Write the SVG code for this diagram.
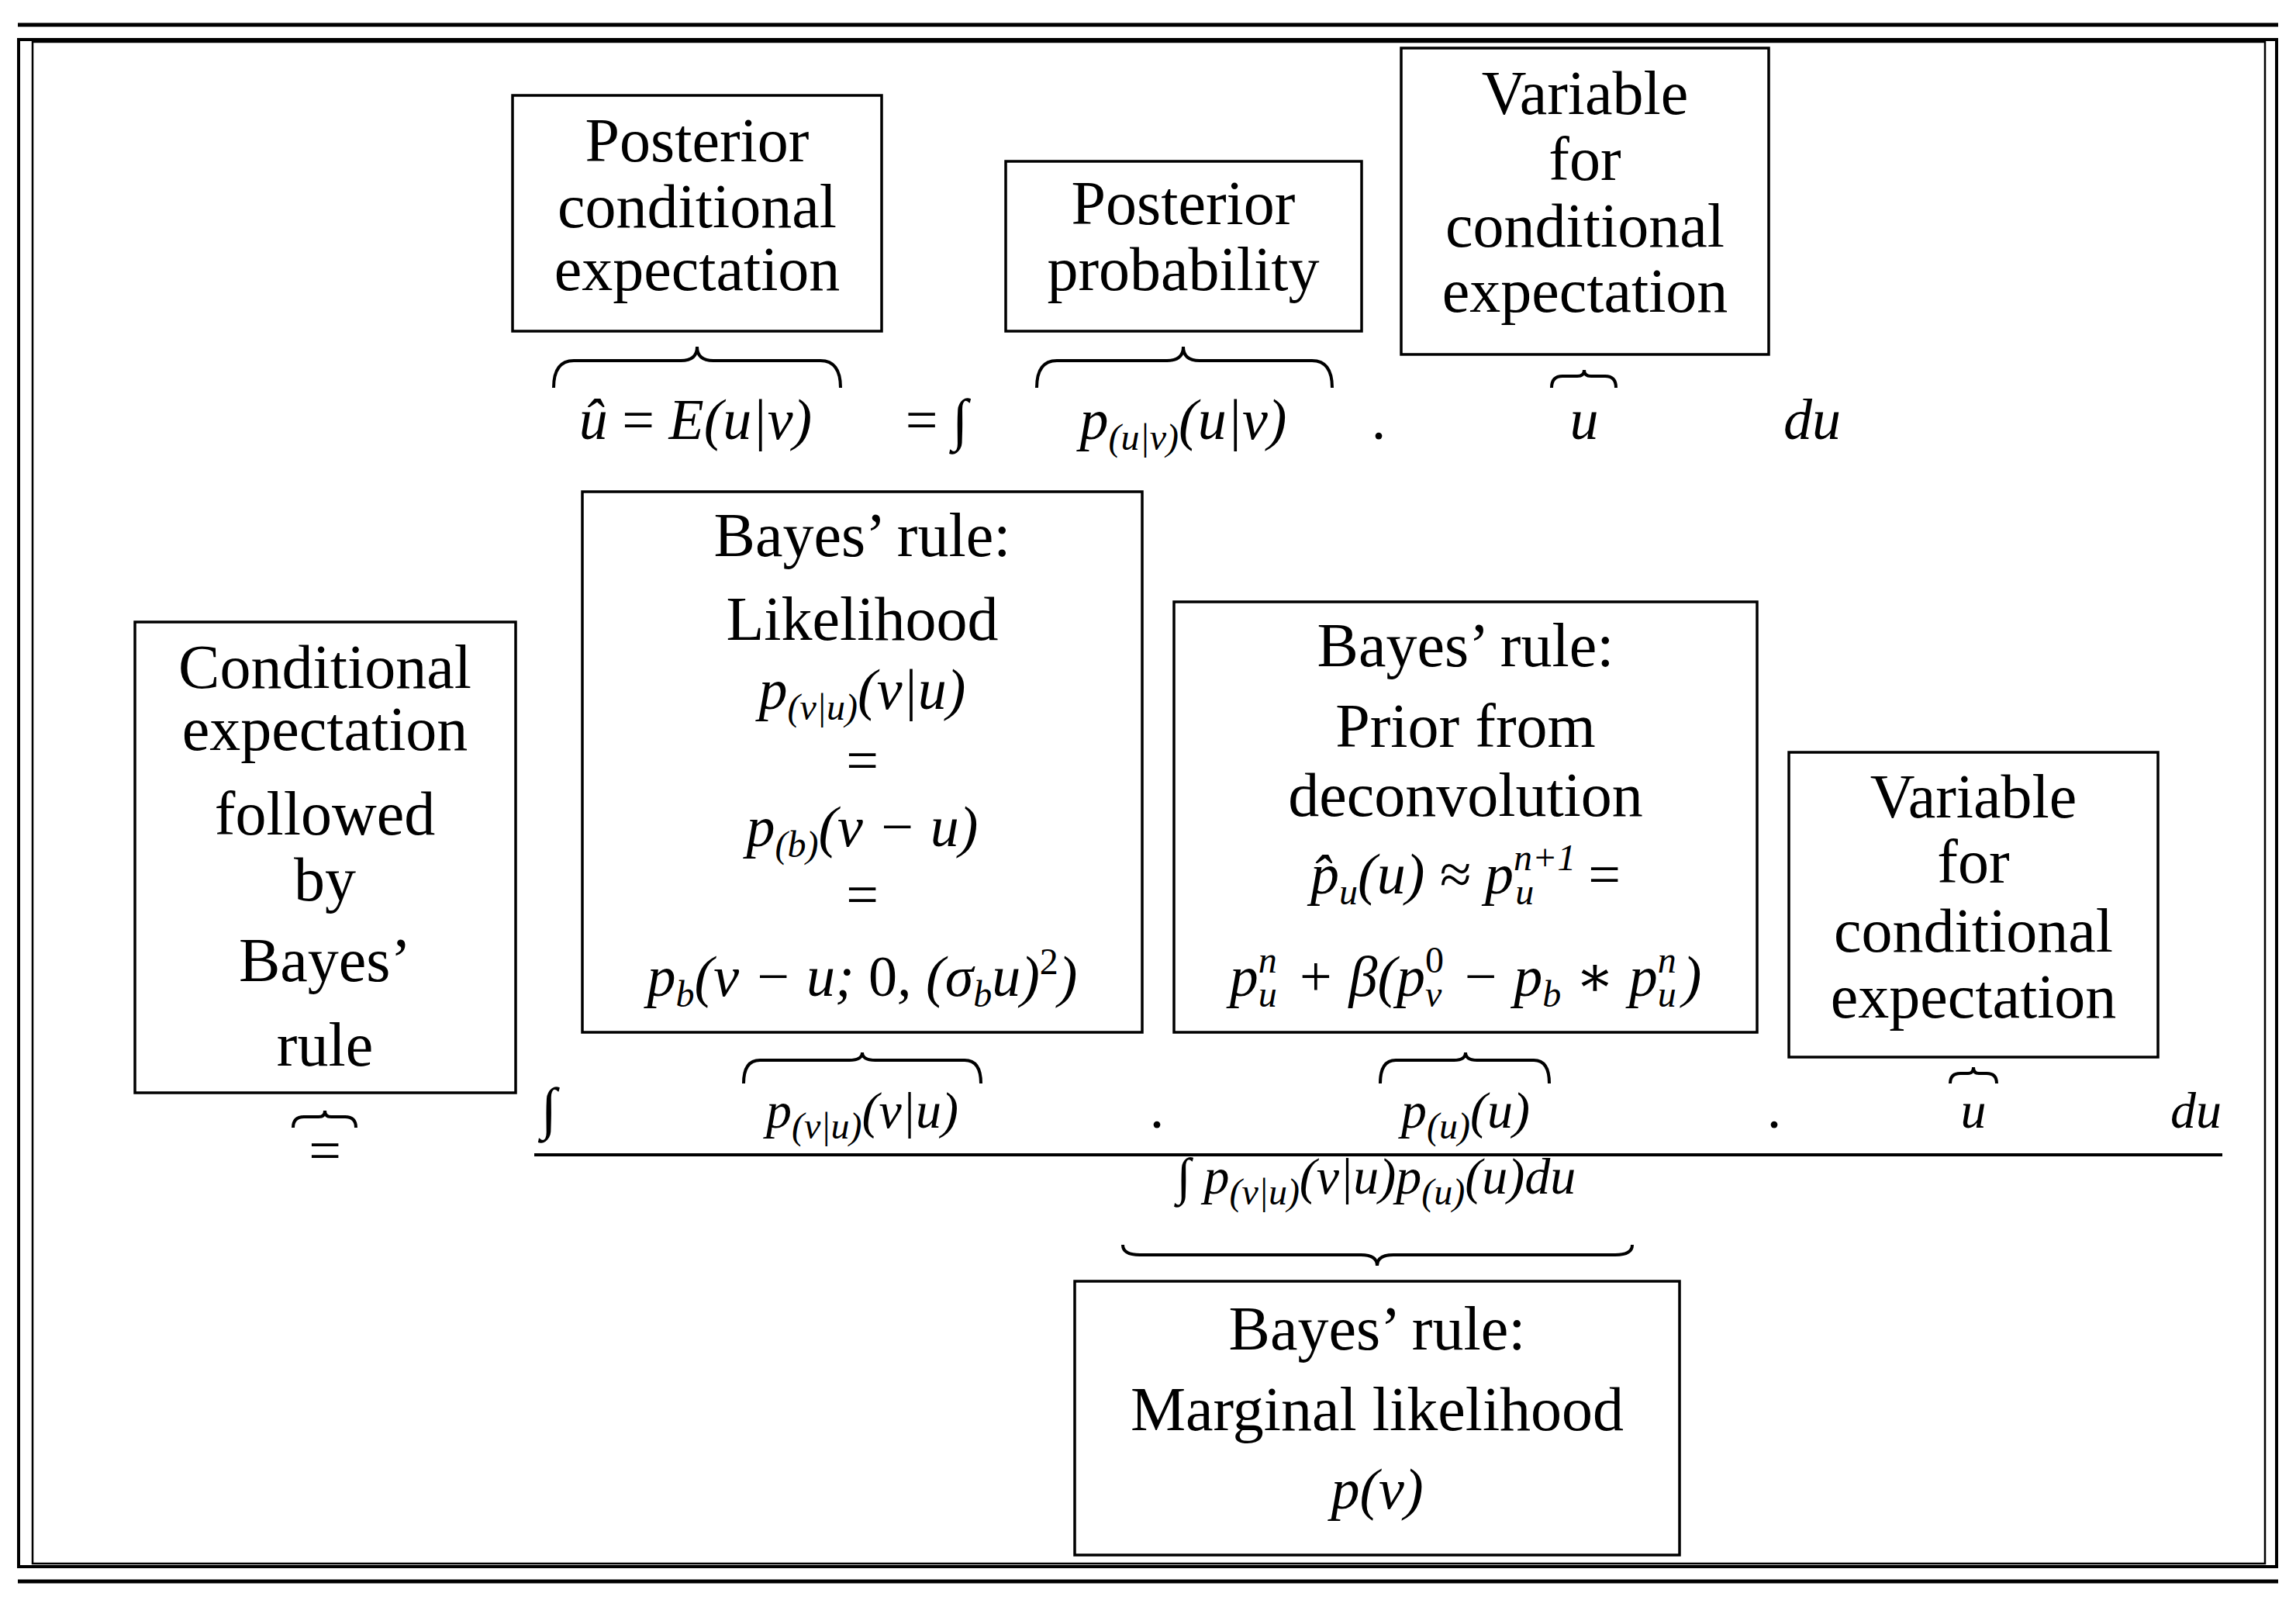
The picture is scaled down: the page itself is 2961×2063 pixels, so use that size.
<svg xmlns="http://www.w3.org/2000/svg" width="2961" height="2063" viewBox="0 0 2961 2063">
<style>
.t{font-family:"Liberation Serif","DejaVu Serif",serif;font-size:80px;fill:#000;text-anchor:middle}
.m{font-family:"Liberation Serif","DejaVu Serif",serif;font-size:74px;font-style:italic;fill:#000;text-anchor:middle}
.s{font-size:48px}
.n{font-style:normal}
.box{fill:#fff;stroke:#000;stroke-width:3.5}
.br{fill:none;stroke:#000;stroke-width:4}
</style>
<rect x="0" y="0" width="2961" height="2063" fill="#fff"/>
<g id="frame" fill="none" stroke="#000">
<line x1="23" y1="32" x2="2938" y2="32" stroke-width="5"/>
<rect x="24" y="51" width="2912" height="1969" stroke-width="4"/>
<rect x="42" y="54" width="2879" height="1962" stroke-width="2.5"/>
<line x1="23" y1="2039" x2="2938" y2="2039" stroke-width="5"/>
</g>
<g id="n1"><rect class="box" x="661" y="123" width="476" height="304"/>
<text class="t" x="899" y="208">Posterior</text><text class="t" x="899" y="293">conditional</text><text class="t" x="899" y="374">expectation</text></g>
<g id="n2"><rect class="box" x="1297" y="208" width="459" height="219"/>
<text class="t" x="1526" y="289">Posterior</text><text class="t" x="1526" y="374">probability</text></g>
<g id="n3"><rect class="box" x="1807" y="62" width="474" height="395"/>
<text class="t" x="2044" y="147">Variable</text><text class="t" x="2044" y="232">for</text><text class="t" x="2044" y="318">conditional</text><text class="t" x="2044" y="402">expectation</text></g>
<g id="n4"><rect class="box" x="751" y="634" width="722" height="697"/>
<text class="t" x="1112" y="717">Bayes’ rule:</text><text class="t" x="1112" y="825">Likelihood</text>
<text class="m" x="1112" y="914">p<tspan class="s" dy="14">(v|u)</tspan><tspan dy="-14">(v|u)</tspan></text>
<text class="m n" x="1112" y="1005">=</text>
<text class="m" x="1112" y="1091">p<tspan class="s" dy="14">(b)</tspan><tspan dy="-14">(v − u)</tspan></text>
<text class="m n" x="1112" y="1178">=</text>
<text class="m" x="1112" y="1284">p<tspan class="s" dy="14">b</tspan><tspan dy="-14">(v − u; </tspan><tspan class="n">0</tspan>, (σ<tspan class="s" dy="14">b</tspan><tspan dy="-14">u)</tspan><tspan class="s n" dy="-28">2</tspan><tspan dy="28">)</tspan></text></g>
<g id="n5"><rect class="box" x="174" y="802" width="491" height="607"/>
<text class="t" x="419" y="887">Conditional</text><text class="t" x="419" y="967">expectation</text><text class="t" x="419" y="1076">followed</text><text class="t" x="419" y="1161">by</text><text class="t" x="419" y="1265">Bayes’</text><text class="t" x="419" y="1374">rule</text></g>
<g id="n6"><rect class="box" x="1514" y="776" width="752" height="555"/>
<text class="t" x="1890" y="859">Bayes’ rule:</text><text class="t" x="1890" y="963">Prior from</text><text class="t" x="1890" y="1052">deconvolution</text>
<text class="m" x="1890" y="1152">p̂<tspan class="s" dy="14">u</tspan><tspan dy="-14">(u) ≈ p</tspan><tspan class="s" dy="-30">n+1</tspan><tspan class="s" dx="-78" dy="44">u</tspan><tspan class="n" dx="70" dy="-14">=</tspan></text>
<text class="m" x="1890" y="1284">p<tspan class="s" dy="-30">n</tspan><tspan class="s" dx="-24" dy="44">u</tspan><tspan dx="6" dy="-14"> + β(p</tspan><tspan class="s n" dy="-30">0</tspan><tspan class="s" dx="-24" dy="44">v</tspan><tspan dx="6" dy="-14"> − p</tspan><tspan class="s" dy="14">b</tspan><tspan dy="-14"> ∗ p</tspan><tspan class="s" dy="-30">n</tspan><tspan class="s" dx="-24" dy="44">u</tspan><tspan dx="8" dy="-14">)</tspan></text></g>
<g id="n7"><rect class="box" x="2307" y="970" width="476" height="393"/>
<text class="t" x="2545" y="1054">Variable</text><text class="t" x="2545" y="1138">for</text><text class="t" x="2545" y="1227">conditional</text><text class="t" x="2545" y="1312">expectation</text></g>
<g id="n8"><rect class="box" x="1386" y="1652" width="780" height="353"/>
<text class="t" x="1776" y="1740">Bayes’ rule:</text><text class="t" x="1776" y="1844">Marginal likelihood</text>
<text class="m" x="1776" y="1945">p(v)</text></g>
<g id="equation">
<text class="m" x="897" y="566">û <tspan class="n">=</tspan> E(u|v)</text>
<text class="m" x="1208" y="566"><tspan class="n">=</tspan> ∫</text>
<text class="m" x="1526" y="566">p<tspan class="s" dy="14">(u|v)</tspan><tspan dy="-14">(u|v)</tspan></text>
<text class="m n" x="1778" y="566">.</text>
<text class="m" x="2043" y="566">u</text>
<text class="m" x="2337" y="566">du</text>
<text class="m n" x="419" y="1508">=</text>
<text class="m" x="708" y="1454">∫</text>
<text class="m" x="1112" y="1454" style="font-size:66px">p<tspan class="s" dy="14">(v|u)</tspan><tspan dy="-14">(v|u)</tspan></text>
<text class="m n" x="1492" y="1454">.</text>
<text class="m" x="1890" y="1454" style="font-size:66px">p<tspan class="s" dy="14">(u)</tspan><tspan dy="-14">(u)</tspan></text>
<text class="m n" x="2288" y="1454">.</text>
<text class="m" x="2545" y="1454" style="font-size:66px">u</text>
<text class="m" x="2832" y="1454" style="font-size:66px">du</text>
<line x1="689" y1="1489" x2="2866" y2="1489" stroke="#000" stroke-width="4"/>
<text class="m" x="1775" y="1539" style="font-size:66px">∫ p<tspan class="s" dy="14">(v|u)</tspan><tspan dy="-14">(v|u)p</tspan><tspan class="s" dy="14">(u)</tspan><tspan dy="-14">(u)du</tspan></text>
</g>
<g id="connectors">
<path class="br" d="M714,500 Q714,465 740,465 H878 Q899,465 899,447 Q899,465 920,465 H1058 Q1084,465 1084,500"/>
<path class="br" d="M1337,500 Q1337,465 1363,465 H1505 Q1526,465 1526,447 Q1526,465 1547,465 H1692 Q1718,465 1718,500"/>
<path class="br" d="M2001,500 Q2001,485 2015,485 H2034 Q2043,485 2043,477 Q2043,485 2052,485 H2070 Q2084,485 2084,500"/>
<path class="br" d="M959,1397 Q959,1367 980,1367 H1095 Q1112,1367 1112,1357 Q1112,1367 1129,1367 H1244 Q1265,1367 1265,1397"/>
<path class="br" d="M1780,1397 Q1780,1367 1800,1367 H1875 Q1890,1367 1890,1357 Q1890,1367 1905,1367 H1978 Q1998,1367 1998,1397"/>
<path class="br" d="M2515,1397 Q2515,1384 2528,1384 H2538 Q2545,1384 2545,1376 Q2545,1384 2552,1384 H2562 Q2575,1384 2575,1397"/>
<path class="br" d="M378,1454 Q378,1440 392,1440 H411 Q419,1440 419,1432 Q419,1440 427,1440 H445 Q459,1440 459,1454"/>
<path class="br" d="M1448,1605 Q1448,1618 1470,1618 H1755 Q1776,1618 1776,1632 Q1776,1618 1797,1618 H2083 Q2105,1618 2105,1605"/>
</g>
</svg>
